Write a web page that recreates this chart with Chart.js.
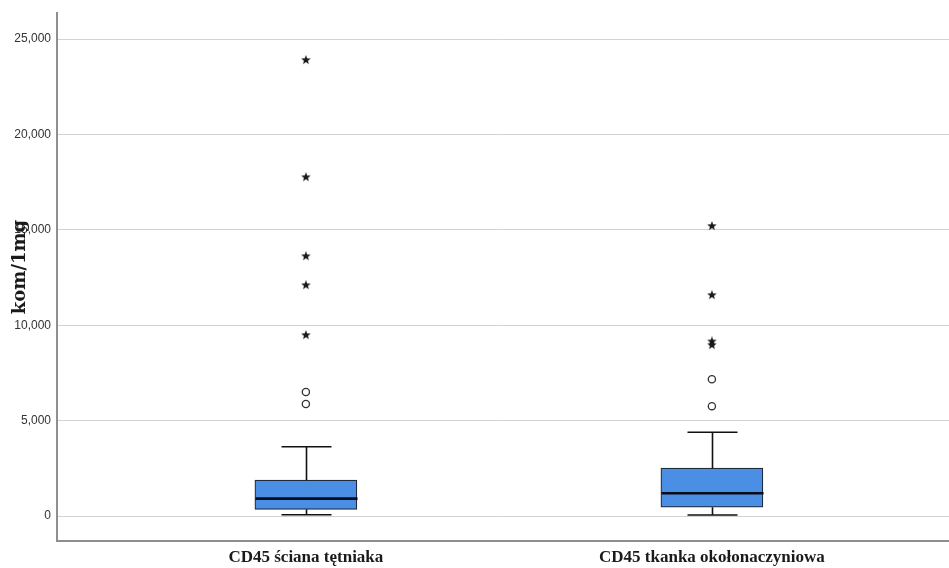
<!DOCTYPE html>
<html>
<head>
<meta charset="utf-8">
<script src="https://cdn.jsdelivr.net/npm/chart.js@4.4.1/dist/chart.umd.min.js"></script>
<style>
  html, body { margin: 0; padding: 0; background: #ffffff; }
  #wrap { width: 949px; height: 568px; position: relative; }
</style>
</head>
<body>
<div id="wrap"><canvas id="c" width="949" height="568"></canvas></div>
<script>
// Groups shown on the category axis
const categories = ['CD45 ściana tętniaka', 'CD45 tkanka okołonaczyniowa'];
const groupPos = [1, 2];

// Box-plot summary per group (kom/1mg)
const whiskerLow  = [70, 50];
const q1          = [350, 460];
const median      = [910, 1190];
const q3          = [1880, 2510];
const whiskerHigh = [3630, 4390];

// Outliers: circles = mild, stars = extreme
const mildOutliers    = [[6500, 5870], [7170, 5760]];
const extremeOutliers = [[23900, 17760, 13620, 12100, 9480], [15200, 11580, 9150, 8960]];

// Value axis ticks
const yTicks = [0, 5000, 10000, 15000, 20000, 25000];
const yTitle = 'kom/1mg';

const boxFill = '#4a8fe3';
const ink = '#111111';

// small filled five-point star used as the extreme-outlier marker
function makeStar(size, color) {
  const cv = document.createElement('canvas');
  cv.width = size; cv.height = size;
  const g = cv.getContext('2d');
  const cx = size / 2, cy = size / 2, ro = size / 2, ri = ro * 0.42;
  g.beginPath();
  for (let k = 0; k < 10; k++) {
    const r = k % 2 === 0 ? ro : ri;
    const a = -Math.PI / 2 + k * Math.PI / 5;
    const px = cx + r * Math.cos(a), py = cy + r * Math.sin(a);
    if (k === 0) g.moveTo(px, py); else g.lineTo(px, py);
  }
  g.closePath();
  g.fillStyle = color;
  g.fill();
  return cv;
}
const starImg = makeStar(10, '#1a1a1a');

const boxData = groupPos.map((x, i) => ({ x: x, y: [q1[i], q3[i]] }));
const mildData = [];
const extremeData = [];
groupPos.forEach((x, i) => {
  mildOutliers[i].forEach(v => mildData.push({ x: x, y: v }));
  extremeOutliers[i].forEach(v => extremeData.push({ x: x, y: v }));
});

const BOX_WIDTH = 102;
const CAP_WIDTH = 50;

// whiskers, caps and median lines drawn from the summary arrays via the scales
const whiskerPlugin = {
  id: 'whiskers',
  afterDatasetsDraw(chart) {
    const ctx = chart.ctx;
    const xs = chart.scales.x, ys = chart.scales.y;
    ctx.save();
    groupPos.forEach((gx, i) => {
      const x = Math.round(xs.getPixelForValue(gx)) + 0.5;
      const yLo = ys.getPixelForValue(whiskerLow[i]);
      const yQ1 = ys.getPixelForValue(q1[i]);
      const yQ3 = ys.getPixelForValue(q3[i]);
      const yHi = ys.getPixelForValue(whiskerHigh[i]);
      const yMed = ys.getPixelForValue(median[i]);
      ctx.strokeStyle = ink;
      ctx.lineWidth = 1.6;
      ctx.beginPath();
      ctx.moveTo(x, yQ3); ctx.lineTo(x, yHi);
      ctx.moveTo(x - CAP_WIDTH / 2, yHi); ctx.lineTo(x + CAP_WIDTH / 2, yHi);
      ctx.moveTo(x, yQ1); ctx.lineTo(x, yLo);
      ctx.moveTo(x - CAP_WIDTH / 2, yLo); ctx.lineTo(x + CAP_WIDTH / 2, yLo);
      ctx.stroke();
      ctx.lineWidth = 2.6;
      ctx.strokeStyle = '#0b0b1a';
      ctx.beginPath();
      ctx.moveTo(x - BOX_WIDTH / 2, yMed); ctx.lineTo(x + BOX_WIDTH / 2, yMed);
      ctx.stroke();
    });
    ctx.restore();
  }
};

// rotated value-axis title
const yTitlePlugin = {
  id: 'yTitle',
  afterDraw(chart) {
    const ctx = chart.ctx;
    ctx.save();
    ctx.translate(20, 267);
    ctx.rotate(-Math.PI / 2);
    ctx.font = 'bold 18px "DejaVu Serif"';
    ctx.fillStyle = '#1a1a1a';
    ctx.textAlign = 'center';
    ctx.textBaseline = 'middle';
    ctx.fillText(yTitle, 0, 0);
    ctx.restore();
  }
};

new Chart(document.getElementById('c'), {
  type: 'scatter',
  data: {
    datasets: [
      {
        type: 'scatter',
        data: extremeData,
        pointStyle: starImg,
        pointRadius: 5,
        order: 0
      },
      {
        type: 'scatter',
        data: mildData,
        pointStyle: 'circle',
        pointRadius: 3.6,
        borderColor: '#333333',
        borderWidth: 1.3,
        backgroundColor: '#ffffff',
        order: 0
      },
      {
        type: 'bar',
        data: boxData,
        backgroundColor: boxFill,
        borderColor: '#1f2a3a',
        borderWidth: 1.2,
        borderSkipped: false,
        barThickness: BOX_WIDTH,
        order: 1
      }
    ]
  },
  options: {
    responsive: false,
    animation: false,
    layout: { autoPadding: false, padding: { top: 13, right: 0, bottom: 0, left: 0 } },
    plugins: { legend: { display: false }, tooltip: { enabled: false } },
    scales: {
      x: {
        type: 'linear',
        offset: false,
        min: 0.387,
        max: 2.584,
        afterBuildTicks(scale) { scale.ticks = groupPos.map(v => ({ value: v })); },
        afterFit(scale) { scale.height = 27; },
        ticks: {
          autoSkip: false,
          maxRotation: 0,
          padding: 6,
          color: '#1a1a1a',
          font: { family: '"Liberation Serif"', size: 17, weight: 'bold' },
          callback(value) {
            const i = groupPos.indexOf(value);
            return i >= 0 ? categories[i] : '';
          }
        },
        grid: { display: false, drawTicks: false, offset: false },
        border: { display: true, color: '#8f8f8f', width: 2 }
      },
      y: {
        type: 'linear',
        min: -1310,
        max: 26360,
        afterBuildTicks(scale) { scale.ticks = yTicks.map(v => ({ value: v })); },
        afterFit(scale) { scale.width = 57; },
        ticks: {
          padding: 6,
          color: '#333333',
          font: { family: '"Liberation Sans"', size: 12 },
          callback(value) { return value.toLocaleString('en-US'); }
        },
        grid: { color: '#d2d2d2', lineWidth: 1, drawTicks: false },
        border: { display: true, color: '#8f8f8f', width: 2 }
      }
    }
  },
  plugins: [whiskerPlugin, yTitlePlugin]
});
</script>
</body>
</html>
